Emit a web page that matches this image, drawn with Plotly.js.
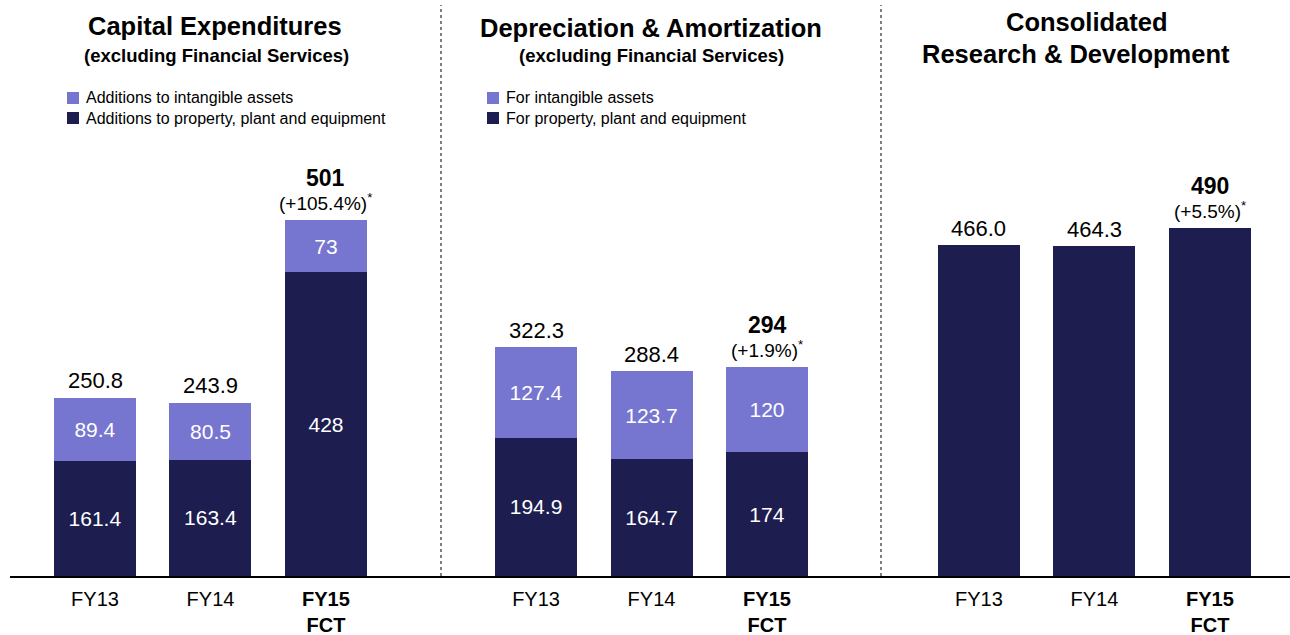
<!DOCTYPE html>
<html>
<head>
<meta charset="utf-8">
<script src="https://cdn.plot.ly/plotly-3.0.1.min.js"></script>
<style>
  body { margin: 0; background: #fff; }
  #chart { width: 1290px; height: 635px; }
</style>
</head>
<body>
<div id="chart"></div>
<script>
// categories (x ticks)
let years = ["FY13", "FY14", "FY15"];
let yearLabels = ["FY13", "FY14", "<b>FY15</b><br><b>FCT</b>"];

// capital expenditures
let capexPPE = [161.4, 163.4, 428];
let capexIntangible = [89.4, 80.5, 73];
let capexTotal = ["250.8", "243.9", "501"];
let capexGrowth = ["", "", "(+105.4%)<sup>*</sup>"];
let capexNames = ["Additions to intangible assets", "Additions to property, plant and equipment"];

// depreciation & amortization
let daPPE = [194.9, 164.7, 174];
let daIntangible = [127.4, 123.7, 120];
let daTotal = ["322.3", "288.4", "294"];
let daGrowth = ["", "", "(+1.9%)<sup>*</sup>"];
let daNames = ["For intangible assets", "For property, plant and equipment"];

// research & development
let rnd = [466.0, 464.3, 490];
let rndTotal = ["466.0", "464.3", "490"];
let rndGrowth = ["", "", "(+5.5%)<sup>*</sup>"];

let dark = "#1d1d4f";
let light = "#7676d0";
let font = "Arial, 'Liberation Sans', sans-serif";

// stacked segment trace with the value written inside
function segment(vals, name, color, xa, ya) {
    return {
        x: years,
        y: vals,
        name: name,
        type: "bar",
        xaxis: xa,
        yaxis: ya,
        showlegend: false,
        marker: {color: color, line: {width: 0}},
        text: vals.map(v => String(v)),
        texttemplate: "%{text}",
        textposition: "inside",
        insidetextanchor: "middle",
        constraintext: "none",
        textfont: {color: "#ffffff", size: 21, family: font},
        hoverinfo: "skip"
    };
}

let data = [
    segment(capexPPE, capexNames[1], dark, "x", "y"),
    segment(capexIntangible, capexNames[0], light, "x", "y"),
    segment(daPPE, daNames[1], dark, "x2", "y2"),
    segment(daIntangible, daNames[0], light, "x2", "y2"),
    {
        x: years, y: rnd, name: "R&D", type: "bar",
        xaxis: "x3", yaxis: "y3", showlegend: false,
        marker: {color: dark, line: {width: 0}}, hoverinfo: "skip"
    }
];

// total labels above bars
let annotations = [];
function totals(xref, yref, tops, labels, growth) {
    for (let i = 0; i < years.length; i++) {
        let isFct = growth[i] !== "";
        annotations.push({
            x: years[i], y: tops[i], xref: xref, yref: yref,
            text: isFct ? "<b>" + labels[i] + "</b>" : labels[i],
            showarrow: false, yanchor: "middle", yshift: isFct ? 42 : 17,
            font: {size: isFct ? 23 : 22, color: "#000", family: font}
        });
        if (isFct) {
            annotations.push({
                x: years[i], y: tops[i], xref: xref, yref: yref,
                text: growth[i],
                showarrow: false, yanchor: "middle", yshift: 18,
                font: {size: 19, color: "#000", family: font}
            });
        }
    }
}
totals("x", "y", capexPPE.map((v, i) => v + capexIntangible[i]), capexTotal, capexGrowth);
totals("x2", "y2", daPPE.map((v, i) => v + daIntangible[i]), daTotal, daGrowth);
totals("x3", "y3", rnd, rndTotal, rndGrowth);

// panel titles
let W = 1290, H = 576;
function title(text, px, py, size) {
    annotations.push({
        x: px / W, y: (H - py) / H, xref: "paper", yref: "paper",
        text: "<b>" + text + "</b>", showarrow: false,
        xanchor: "center", yanchor: "middle",
        font: {size: size, color: "#000", family: font}
    });
}
title("Capital Expenditures", 215, 26, 25.5);
title("(excluding Financial Services)", 216, 55, 18.5);
title("Depreciation & Amortization", 651, 28, 25.5);
title("(excluding Financial Services)", 651, 55, 18.5);
title("Consolidated", 1087, 22, 25.5);
title("Research & Development", 1076, 54, 25.5);

// legends drawn as squares + labels
let shapes = [];
function legendRow(px, py, color, label) {
    shapes.push({
        type: "rect", xref: "paper", yref: "paper",
        x0: px / W, x1: (px + 12) / W, y0: (H - py - 6) / H, y1: (H - py + 6) / H,
        fillcolor: color, line: {width: 0}
    });
    annotations.push({
        x: (px + 17) / W, y: (H - py) / H, xref: "paper", yref: "paper",
        text: label, showarrow: false, xanchor: "left", yanchor: "middle",
        font: {size: 16, color: "#000", family: font}
    });
}
legendRow(67, 98, light, capexNames[0]);
legendRow(67, 118, dark, capexNames[1]);
legendRow(487, 98, light, daNames[0]);
legendRow(487, 118, dark, daNames[1]);

// dotted dividers between panels
[441, 881].forEach(px => shapes.push({
    type: "line", xref: "paper", yref: "paper", x0: px / W, x1: px / W, y0: 0, y1: (H - 5) / H,
    line: {color: "#555", width: 1.5, dash: "dot"}
}));

function xaxis(d0, d1, r0, r1, anchor) {
    return {
        domain: [d0 / W, d1 / W],
        range: [r0, r1],
        anchor: anchor,
        type: "category",
        tickvals: years,
        ticktext: yearLabels,
        showline: true, linecolor: "#000", linewidth: 2,
        showgrid: false, zeroline: false, ticks: "",
        ticklabelstandoff: 4,
        tickfont: {size: 20, color: "#000", family: font},
        fixedrange: true
    };
}
function yaxis(anchor) {
    return {
        range: [0, 811], anchor: anchor,
        showgrid: false, zeroline: false, showticklabels: false, showline: false,
        fixedrange: true
    };
}

let layout = {
    width: 1290,
    height: 635,
    margin: {l: 0, r: 0, t: 0, b: 59},
    paper_bgcolor: "#fff",
    plot_bgcolor: "rgba(0,0,0,0)",
    barmode: "stack",
    bargap: 0.29,
    showlegend: false,
    font: {family: font, color: "#000"},
    xaxis: xaxis(10, 441, -0.736, 2.996, "y"),
    xaxis2: xaxis(441, 881, -0.823, 2.987, "y2"),
    xaxis3: xaxis(881, 1290, -0.848, 2.693, "y3"),
    yaxis: yaxis("x"),
    yaxis2: yaxis("x2"),
    yaxis3: yaxis("x3"),
    annotations: annotations,
    shapes: shapes
};

Plotly.newPlot("chart", data, layout, {displayModeBar: false, staticPlot: true});
</script>
</body>
</html>
